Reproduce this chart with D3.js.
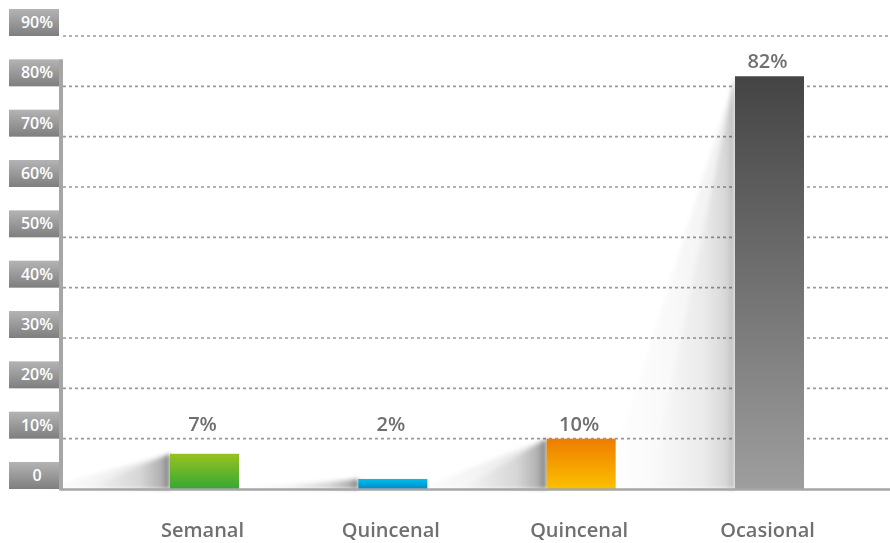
<!DOCTYPE html>
<html>
<head>
<meta charset="utf-8">
<script src="https://cdn.jsdelivr.net/npm/d3@7"></script>
<style>
  html, body { margin: 0; padding: 0; background: #fff; }
  svg { display: block; }
</style>
</head>
<body>
<svg id="chart" width="890" height="543"></svg>
<script>
// Frequency of purchase (share of respondents)
const categories = ["Semanal", "Quincenal", "Quincenal", "Ocasional"];
const values = [7, 2, 10, 82];
const valueLabels = ["7%", "2%", "10%", "82%"];
const tickValues = [0, 10, 20, 30, 40, 50, 60, 70, 80, 90];
const tickLabels = ["0", "10%", "20%", "30%", "40%", "50%", "60%", "70%", "80%", "90%"];
const barGradients = [
  ["#98c21f", "#35a835"],
  ["#00bfee", "#0088c8"],
  ["#ed7c00", "#fcc000"],
  ["#444444", "#9e9e9e"]
];

const W = 890;
const FONT = "'Open Sans', Lato, sans-serif";
const svg = d3.select("#chart");
const defs = svg.append("defs");

const y = d3.scaleLinear().domain([0, 90]).range([489, 36]);
const x = d3.scalePoint().domain(d3.range(categories.length)).range([204.5, 769.5]);
const barW = 69;
const axisX = 61;
const baseY = y(0);

// gradients
barGradients.forEach((g, i) => {
  const lg = defs.append("linearGradient").attr("id", "bar" + i)
    .attr("x1", 0).attr("y1", 0).attr("x2", 0).attr("y2", 1);
  lg.append("stop").attr("offset", "0%").attr("stop-color", g[0]);
  lg.append("stop").attr("offset", "100%").attr("stop-color", g[1]);
});
const sg = defs.append("linearGradient").attr("id", "shadowGrad")
  .attr("x1", 1).attr("y1", 0).attr("x2", 0).attr("y2", 0);
[[0, 0.45], [0.1, 0.22], [0.35, 0.08], [1, 0]].forEach(([o, a]) =>
  sg.append("stop").attr("offset", o).attr("stop-color", "#000").attr("stop-opacity", a));
const wg = defs.append("linearGradient").attr("id", "wedgeGrad")
  .attr("x1", 1).attr("y1", 0).attr("x2", 0).attr("y2", 0);
[[0, 0.12], [0.5, 0.05], [1, 0]].forEach(([o, a]) =>
  wg.append("stop").attr("offset", o).attr("stop-color", "#000").attr("stop-opacity", a));
defs.append("filter").attr("id", "soft").attr("x", "-20%").attr("y", "-20%")
  .attr("width", "140%").attr("height", "140%")
  .append("feGaussianBlur").attr("stdDeviation", 2);
const bg = defs.append("linearGradient").attr("id", "boxGrad")
  .attr("x1", 0).attr("y1", 0).attr("x2", 0).attr("y2", 1);
bg.append("stop").attr("offset", "0%").attr("stop-color", "#b4b4b4");
bg.append("stop").attr("offset", "100%").attr("stop-color", "#7e7e7e");

// dashed gridlines
svg.append("g").selectAll("line")
  .data(tickValues.filter(v => v > 0))
  .join("line")
  .attr("x1", axisX + 2).attr("x2", W)
  .attr("y1", d => y(d)).attr("y2", d => y(d))
  .attr("stroke", "#9a9a9a").attr("stroke-width", 1.6)
  .attr("stroke-dasharray", "3,3");

// shadows cast to the left of each bar: a long faint wedge plus a darker edge
const shadows = svg.append("g").attr("filter", "url(#soft)");
const shadowOpacity = v => (v > 40 ? 0.5 : 1);
shadows.selectAll("path.wedge")
  .data(values)
  .join("path")
  .attr("class", "wedge")
  .attr("d", (v, i) => {
    const x0 = x(i) - barW / 2;
    return `M${x0},${y(v)} L${x0},${baseY} L${x0 - 130},${baseY} Z`;
  })
  .attr("fill", "url(#wedgeGrad)")
  .attr("opacity", shadowOpacity);
shadows.selectAll("path.edge")
  .data(values)
  .join("path")
  .attr("class", "edge")
  .attr("d", (v, i) => {
    const x0 = x(i) - barW / 2;
    return `M${x0},${y(v)} L${x0},${baseY} L${x0 - 85},${baseY} Z`;
  })
  .attr("fill", "url(#shadowGrad)")
  .attr("opacity", shadowOpacity);

// bars
svg.append("g").selectAll("rect")
  .data(values)
  .join("rect")
  .attr("x", (v, i) => x(i) - barW / 2)
  .attr("y", v => y(v))
  .attr("width", barW)
  .attr("height", v => baseY - y(v))
  .attr("fill", (v, i) => `url(#bar${i})`);

// baseline and vertical axis
svg.append("line")
  .attr("x1", axisX).attr("x2", W).attr("y1", baseY + 0.5).attr("y2", baseY + 0.5)
  .attr("stroke", "#a6a6a6").attr("stroke-width", 2.5);
svg.append("line")
  .attr("x1", axisX).attr("x2", axisX).attr("y1", y(80) - 27).attr("y2", baseY + 1.5)
  .attr("stroke", "#a6a6a6").attr("stroke-width", 4);

// tick label boxes
const ticks = svg.append("g").selectAll("g")
  .data(tickValues)
  .join("g")
  .attr("transform", d => `translate(9,${y(d) - 27})`);
ticks.append("rect")
  .attr("width", 50).attr("height", 27)
  .attr("fill", "url(#boxGrad)");
ticks.append("text")
  .attr("x", 28).attr("y", 19)
  .attr("text-anchor", "middle")
  .attr("fill", "#fff")
  .attr("font-family", FONT)
  .attr("font-weight", 600)
  .attr("font-size", 16)
  .text((d, i) => tickLabels[i]);

// value labels
svg.append("g").selectAll("text")
  .data(values)
  .join("text")
  .attr("x", (v, i) => x(i) - 2)
  .attr("y", v => y(Math.max(v, 10)) - 8)
  .attr("text-anchor", "middle")
  .attr("fill", "#6f6f6f")
  .attr("font-family", FONT)
  .attr("font-weight", 600)
  .attr("font-size", 20)
  .text((v, i) => valueLabels[i]);

// category labels
svg.append("g").selectAll("text")
  .data(categories)
  .join("text")
  .attr("x", (c, i) => x(i) - 2)
  .attr("y", 537)
  .attr("text-anchor", "middle")
  .attr("fill", "#6f6f6f")
  .attr("font-family", FONT)
  .attr("font-weight", 600)
  .attr("font-size", 20)
  .text(c => c);
</script>
</body>
</html>
